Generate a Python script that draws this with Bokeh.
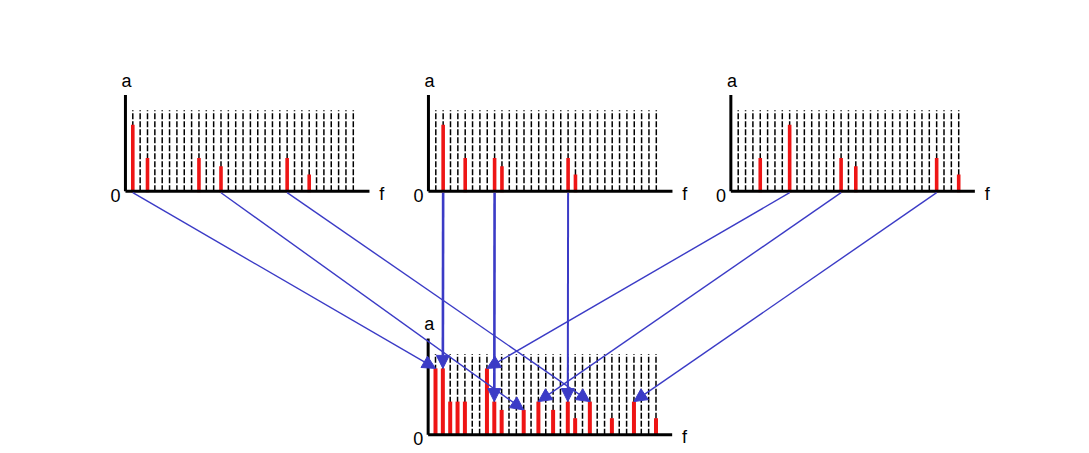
from bokeh.plotting import figure
from bokeh.models import Range1d, Arrow, NormalHead
from bokeh.core.properties import value
from bokeh.embed import file_html
from bokeh.resources import INLINE

# ---------------- data ----------------
# three source spectra (frequency index, amplitude)
p1_freq = [0, 2, 9, 12, 21, 24]
p1_amp = [8, 4, 4, 3, 4, 2]
p2_freq = [1, 4, 8, 9, 18, 19]
p2_amp = [8, 4, 4, 3, 4, 2]
p3_freq = [3, 7, 14, 16, 27, 30]
p3_amp = [4, 8, 4, 3, 4, 2]
# combined spectrum
sum_freq = [0, 1, 2, 3, 4, 7, 8, 9, 12, 14, 16, 18, 19, 21, 24, 27, 30]
sum_amp = [8, 8, 4, 4, 4, 8, 4, 3, 3, 4, 3, 4, 2, 4, 2, 4, 2]
# partials that are traced by an arrow into the combined spectrum
p1_links = [0, 12, 21]
p2_links = [1, 8, 18]
p3_links = [7, 14, 27]
grid_freqs = list(range(31))
axis_labels = ["a", "0", "f"]

# ---------------- layout (pixels) ----------------
W, H = 1089, 453
DX = 7.35        # px per frequency step
DY = 8.3         # px per amplitude unit
GRID_TOP = 9.75  # amplitude units
YAXIS_TOP = 11.6
XAXIS_END = 32.2
ORIGINS = {
    "p1": (132.3, 262.3),
    "p2": (435.3, 262.3),
    "p3": (737.7, 262.3),
    "sum": (435.0, 18.7),
}
RED = "#ee1515"
BLUE = "#3b3bc6"
FONT = value("Liberation Sans")

p = figure(width=W, height=H, x_range=Range1d(0, W), y_range=Range1d(0, H),
           output_backend="svg", toolbar_location=None, min_border=0,
           x_axis_location=None, y_axis_location=None)
p.grid.visible = False
p.outline_line_color = None
p.background_fill_color = "white"
p.border_fill_color = "white"


def px(name, f, a=0.0):
    ox, oy = ORIGINS[name]
    return ox + f * DX, oy + a * DY


panels = {
    "p1": (p1_freq, p1_amp),
    "p2": (p2_freq, p2_amp),
    "p3": (p3_freq, p3_amp),
    "sum": (sum_freq, sum_amp),
}

for name, (freqs, amps) in panels.items():
    ox, oy = ORIGINS[name]
    # dashed frequency grid
    gx = [px(name, f)[0] for f in grid_freqs]
    p.segment(x0=gx, y0=[oy] * len(gx), x1=gx, y1=[oy + GRID_TOP * DY] * len(gx),
              line_color="black", line_width=1.5, line_dash="6 2")
    # red partials
    bw = 4.0 if name == "sum" else 3.6
    bx = [px(name, f)[0] for f in freqs]
    p.vbar(x=bx, width=bw, bottom=oy - 1, top=[oy + a * DY for a in amps],
           fill_color=RED, line_color=None)
    # axes
    x0, _ = px(name, -1)
    x1, _ = px(name, XAXIS_END)
    p.line([x0, x1], [oy, oy], line_color="black", line_width=3)
    p.line([x0, x0], [oy, oy + YAXIS_TOP * DY], line_color="black", line_width=3)
    # labels a, 0, f
    lx = [ox - 6.2, ox - 17.2, ox + 249.0]
    ly = [oy + 110.5, oy - 3.8, oy - 2.5]
    p.text(x=lx, y=ly, text=axis_labels, text_font=FONT, text_font_size="18px",
           text_align="center", text_baseline="middle", text_color="black")

# arrows from source partials into the combined spectrum
sum_lookup = dict(zip(sum_freq, sum_amp))
for name, links in (("p1", p1_links), ("p2", p2_links), ("p3", p3_links)):
    for f in links:
        xs, ys = px(name, f, 0)
        xe, ye = px("sum", f, sum_lookup[f])
        lw = 2.6 if (name == "p2" and f != 18) else (2.0 if name == "p2" else 1.4)
        p.add_layout(Arrow(end=NormalHead(size=13, fill_color=BLUE, line_color=BLUE, line_width=1),
                           x_start=xs, y_start=ys - 1.5, x_end=xe, y_end=ye,
                           line_color=BLUE, line_width=lw))

open("out.html", "w").write(file_html(p, INLINE))
